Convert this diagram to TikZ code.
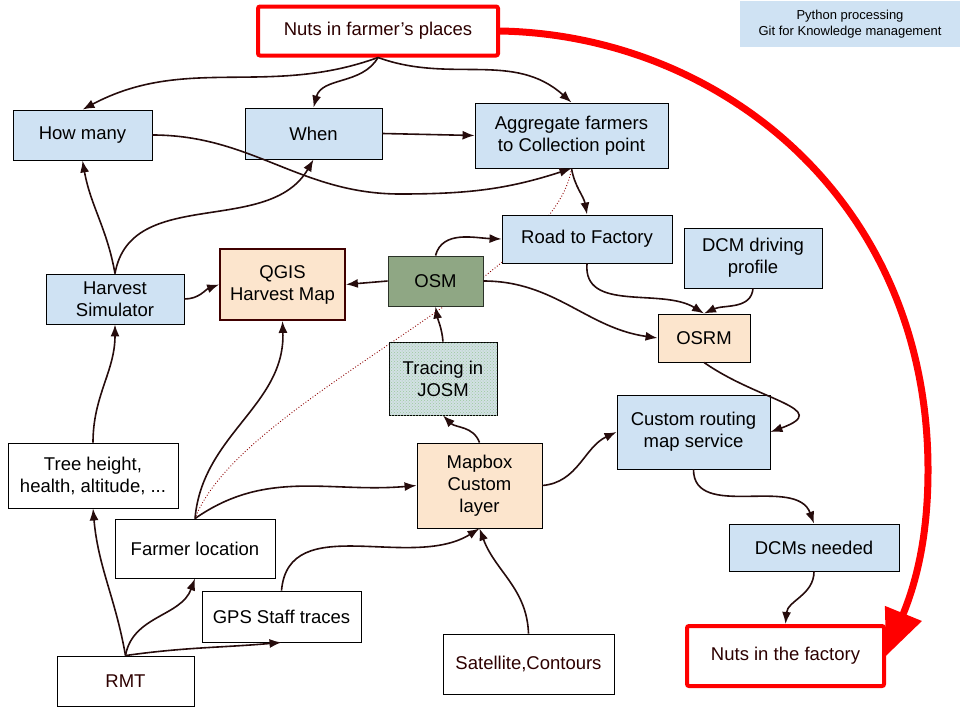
\documentclass[tikz,border=0pt]{standalone}
\usepackage{fontspec}
\setmainfont{Liberation Sans}
\usepackage{tikz}
\usetikzlibrary{arrows.meta,backgrounds,patterns}

\definecolor{boxblue}{RGB}{207,226,243}
\definecolor{boxpeach}{RGB}{252,229,205}
\definecolor{osmgreen}{RGB}{143,167,132}
\definecolor{josmfill}{RGB}{210,224,228}
\definecolor{linkcol}{RGB}{38,12,12}
\definecolor{darktext}{RGB}{45,0,0}

\begin{document}
\begin{tikzpicture}[x=1pt,y=1pt,
    every node/.style={align=center, inner sep=0pt, font=\fontsize{18.5}{22}\selectfont},
    white box/.style={draw=black, line width=0.9pt, fill=white},
    blue box/.style={draw=black, line width=0.9pt, fill=boxblue},
    peach box/.style={draw=black, line width=0.9pt, fill=boxpeach},
    red box/.style={draw=red, line width=4pt, rounded corners=2pt, fill=white, text=darktext},
    link/.style={draw=linkcol, line width=1.6pt, -{Latex[length=12pt,width=9pt]}},
    hidden link/.style={draw=red!55!black, line width=0.9pt, dotted},
    big arrow/.style={draw=red, line width=7pt, -{Triangle[length=46pt,width=38pt]}}]

        % Page frame
        \useasboundingbox (0,0) rectangle (960,-720);

        % Legend in the corner
        \node[fill=boxblue, minimum width=220pt, minimum height=46pt,
              font=\fontsize{13}{16}\selectfont] (legend) at (850,-24)
              {Python processing\\Git for Knowledge management};

        % Start and end
        \node[red box, minimum width=240pt, minimum height=49pt] (farmers) at (378,-31) {Nuts in farmer’s places};
        \node[red box, minimum width=197pt, minimum height=60pt] (factory) at (785.5,-656) {Nuts in the factory};

        % Questions
        \node[blue box, minimum width=139pt, minimum height=50pt] (howmany) at (82.5,-135) {How many};
        \node[blue box, minimum width=137pt, minimum height=51pt] (when) at (313.5,-133.5) {When};
        \node[blue box, minimum width=193pt, minimum height=65pt] (aggregate) at (571.5,-135.5) {Aggregate farmers\\to Collection point};

        % Routing
        \node[blue box, minimum width=170pt, minimum height=48pt] (road) at (587,-239) {Road to Factory};
        \node[blue box, minimum width=138pt, minimum height=60pt] (profile) at (753,-258) {DCM driving\\profile};
        \node[peach box, minimum width=92pt, minimum height=48pt] (osrm) at (704,-338) {OSRM};
        \node[blue box, minimum width=153pt, minimum height=74pt] (routing) at (693.5,-432) {Custom routing\\map service};
        \node[blue box, minimum width=170pt, minimum height=47pt] (dcms) at (814,-547.5) {DCMs needed};

        % Maps
        \node[draw=osmgreen!30!black, line width=0.9pt, fill=osmgreen, minimum width=95pt, minimum height=50pt] (osm) at (435.5,-281) {OSM};
        \node[peach box, draw=red!25!black, line width=1.8pt, minimum width=125pt, minimum height=71pt] (qgis) at (282.5,-284.5) {QGIS\\Harvest Map};
        \node[blue box, fill=josmfill, postaction={pattern=crosshatch dots, pattern color=green!30!gray!60},
              minimum width=108pt, minimum height=73pt] (josm) at (443,-378.5) {Tracing in\\JOSM};
        \node[peach box, minimum width=125pt, minimum height=85pt] (mapbox) at (479.5,-485.5) {Mapbox\\Custom\\layer};
        \node[blue box, minimum width=138pt, minimum height=50pt] (harvest) at (115,-299) {Harvest\\Simulator};

        % Field data
        \node[white box, minimum width=170pt, minimum height=65pt] (tree) at (93,-475.5) {Tree height,\\health, altitude, ...};
        \node[white box, minimum width=160pt, minimum height=59pt] (floc) at (195,-548.5) {Farmer location};
        \node[white box, minimum width=159pt, minimum height=51pt] (gps) at (281.5,-616.5) {GPS Staff traces};
        \node[white box, minimum width=137pt, minimum height=50pt, text=darktext] (rmt) at (125.5,-681) {RMT};
        \node[white box, minimum width=171pt, minimum height=60pt, text=darktext] (sat) at (528.5,-664) {Satellite,Contours};

        % Dotted link behind the boxes
        \begin{scope}[on background layer]
            \draw[hidden link] (aggregate.south) .. controls (555,-280) and (240,-400) .. (floc.north);
        \end{scope}

        % From the farmers
        \draw[link] (farmers.south) to[out=-160,in=28] (howmany.north);
        \draw[link] (farmers.south) to[out=-120,in=75] (when.north);
        \draw[link] (farmers.south) to[out=-20,in=138] (aggregate.north);
        \draw[link] (when.east) -- (aggregate.west);
        \draw[link] (howmany.east) to[out=0,in=180] (400,-194) to[out=0,in=-162] (aggregate.south);

        % Harvest simulation
        \draw[link] (harvest.north) to[out=100,in=-80] (howmany.south);
        \draw[link] (harvest.north) to[out=80,in=-120] (when.south);
        \draw[link] (harvest.east) to[out=0,in=200] (qgis.west);
        \draw[link] (tree.north) to[out=90,in=-90] (harvest.south);

        % OSM and routing
        \draw[link] (osm.west) -- (qgis.east);
        \draw[link] (osm.north) to[out=75,in=178] (road.west);
        \draw[link] (osm.east) to[out=0,in=172] (osrm.west);
        \draw[link] (aggregate.south) to[out=-80,in=100] (road.north);
        \draw[link] (road.south) to[out=-95,in=148] (osrm.north);
        \draw[link] (profile.south) to[out=-95,in=25] (osrm.north);
        \draw[link] (osrm.south) to[out=-35,in=20,looseness=1.8] (routing.east);
        \draw[link] (routing.south) to[out=-90,in=110] (dcms.north);
        \draw[link] (dcms.south) to[out=-90,in=85] (factory.north);

        % Field data into the maps
        \draw[link] (rmt.north) to[out=100,in=-85] (tree.south);
        \draw[link] (rmt.north) to[out=80,in=-110] (floc.south);
        \draw[link] (rmt.north) to[out=8,in=-175] (gps.south);
        \draw[link] (floc.north) to[out=85,in=-88] (qgis.south);
        \draw[link] (floc.north) to[out=35,in=185] (mapbox.west);
        \draw[link] (gps.north) to[out=85,in=-148] (mapbox.south);
        \draw[link] (sat.north) to[out=92,in=-70] (mapbox.south);
        \draw[link] (mapbox.north) to[out=110,in=-45] (josm.south);
        \draw[link] (josm.north) to[out=95,in=-80] (osm.south);
        \draw[link] (mapbox.east) to[out=5,in=-155] (routing.west);

        % The whole chain in one step
        \draw[big arrow] (farmers.east) .. controls (720,-35) and (928,-200) .. (928,-470)
            .. controls (928,-540) and (915,-585) .. (factory.east);
    \end{tikzpicture}
\end{document}
